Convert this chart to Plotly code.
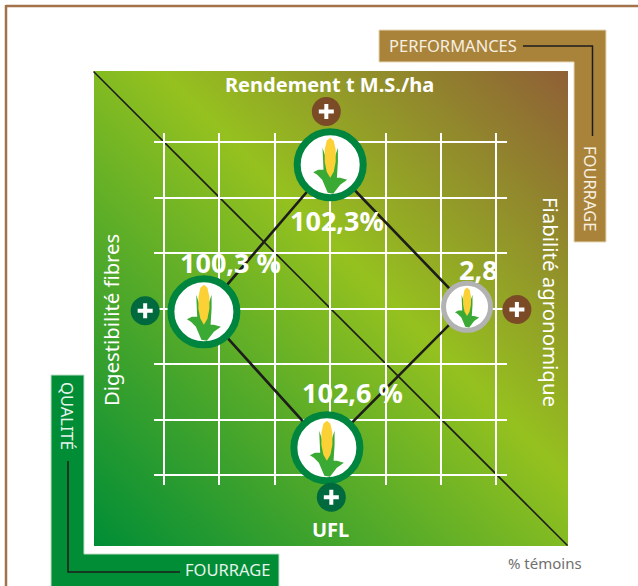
import base64
import plotly.graph_objects as go

# ---- data -------------------------------------------------------------
criteria = ["Rendement t M.S./ha", "Fiabilité agronomique", "UFL", "Digestibilité fibres"]
value_labels = ["102,3%", "2,8", "102,6 %", "100,3 %"]
grid_x = [3.00, 5.47, 2.94, 0.72]     # position read on the 6-cell grid
grid_y = [5.59, 3.03, 0.49, 2.94]
ring_colors = ["#00853f", "#b2b2b2", "#00853f", "#00853f"]
ring_sizes = [66, 47, 66, 66]
ring_widths = [7, 5, 7, 7]
plus_x = [2.93, 6.37, 3.02, -0.34]
plus_y = [6.55, 2.98, -0.40, 2.96]
plus_colors = ["#7b4a26", "#7b4a26", "#00693e", "#00693e"]
grid_ticks = [0, 1, 2, 3, 4, 5, 6]

# ---- page layout helpers (decoration only) ------------------------------
W, H = 638, 586
L, R, T, B = 154, 507, 133, 485
XR = [-10 / 55.4, (R - 164) / 55.4]
YR = [-10 / 55.5, (475 - T) / 55.5]
def X(p): return (p - L) / (R - L)
def Y(p): return (B - p) / (B - T)
def PX(u): return (u - XR[0]) / (XR[1] - XR[0])
def PY(v): return (v - YR[0]) / (YR[1] - YR[0])

def poly(pts):
    return "M" + " L".join(f"{X(a):.5f},{Y(b):.5f}" for a, b in pts) + " Z"

def polyline(pts):
    return "M" + " L".join(f"{X(a):.5f},{Y(b):.5f}" for a, b in pts)

svg = ('<svg xmlns="http://www.w3.org/2000/svg" width="474" height="475" preserveAspectRatio="none">'
       '<defs><linearGradient id="g" x1="0" y1="1" x2="1" y2="0">'
       '<stop offset="0" stop-color="#008d36"/><stop offset="0.57" stop-color="#95c11f"/>'
       '<stop offset="1" stop-color="#8f5f36"/></linearGradient></defs>'
       '<rect width="474" height="475" fill="url(#g)"/></svg>')
grad_src = "data:image/svg+xml;base64," + base64.b64encode(svg.encode()).decode()

# corn icon, in pixels around the marker centre (y up)
LEAF = [(-7.7, 17), (-6.7, -5), (-12, -5), (-17, -7.5), (-13, -10), (-8, -15), (-2.5, -28),
        (3, -29), (10, -20), (17, -15), (10, -13), (6.7, -13), (7.7, 3), (7.7, 17), (3, 3), (-3, 3)]
COB = [(0, 27), (3.5, 24), (5.5, 15), (5.5, 3), (3.5, -7), (0, -13), (-3.5, -7), (-5.5, 3), (-5.5, 15), (-3.5, 24)]
PLUS = [(-2, 7.5), (2, 7.5), (2, 2), (7.5, 2), (7.5, -2), (2, -2), (2, -7.5), (-2, -7.5), (-2, -2), (-7.5, -2), (-7.5, 2), (-2, 2)]
def icon(pts, k):
    return "M" + " L".join(f"{a*k:.2f},{b*k:.2f}" for a, b in pts) + " Z"

shapes = [
    # page frame
    dict(type="line", xref="paper", yref="paper", x0=X(6), x1=X(638), y0=Y(6), y1=Y(6),
         line=dict(color="#a3724b", width=2.5), layer="below"),
    dict(type="line", xref="paper", yref="paper", x0=X(6), x1=X(6), y0=Y(5), y1=Y(586),
         line=dict(color="#a3724b", width=2.5), layer="below"),
    # corner panels
    dict(type="path", xref="paper", yref="paper", layer="below", fillcolor="#a9833a",
         line=dict(color="#e6d8b8", width=1),
         path=poly([(379, 30), (606, 30), (606, 242), (574, 242), (574, 62), (379, 62)])),
    dict(type="path", xref="paper", yref="paper", layer="below", fillcolor="#008d36",
         line=dict(color="#bfe0c8", width=1),
         path=poly([(51, 375), (84, 375), (84, 554), (279, 554), (279, 590), (51, 590)])),
    dict(type="path", xref="paper", yref="paper", layer="below",
         line=dict(color="#1d1d1b", width=1.5),
         path=polyline([(523, 46), (592.5, 46), (592.5, 136)])),
    dict(type="path", xref="paper", yref="paper", layer="below",
         line=dict(color="#1d1d1b", width=1.5),
         path=polyline([(68, 461), (68, 572), (180, 572)])),
    # diagonal
    dict(type="line", xref="paper", yref="paper", x0=X(93.5), x1=X(567.5), y0=Y(71.5), y1=Y(545.5),
         line=dict(color="#1d1d1b", width=1.6), layer="between"),
]
for x, y, s in zip(grid_x, grid_y, ring_sizes):
    k = s / 66
    for pts, col in ((LEAF, "#3aaa35"), (COB, "#fbd136")):
        shapes.append(dict(type="path", xref="paper", yref="paper", xsizemode="pixel", ysizemode="pixel",
                           xanchor=PX(x), yanchor=PY(y), path=icon(pts, k), fillcolor=col,
                           line=dict(width=0), layer="above"))
for x, y, c in zip(plus_x, plus_y, plus_colors):
    shapes.append(dict(type="circle", xref="paper", yref="paper", xsizemode="pixel", ysizemode="pixel",
                       xanchor=PX(x), yanchor=PY(y), x0=-14.5, x1=14.5, y0=-14.5, y1=14.5,
                       fillcolor=c, line=dict(width=0), layer="above"))
    shapes.append(dict(type="path", xref="paper", yref="paper", xsizemode="pixel", ysizemode="pixel",
                       xanchor=PX(x), yanchor=PY(y), path=icon(PLUS, 1), fillcolor="white",
                       line=dict(width=0), layer="above"))

fig = go.Figure()
fig.add_trace(go.Scatter(
    x=grid_x + grid_x[:1], y=grid_y + grid_y[:1], mode="lines", cliponaxis=False,
    line=dict(color="#1d1d1b", width=2.6), hoverinfo="skip"))
fig.add_trace(go.Scatter(
    x=grid_x, y=grid_y, mode="markers", cliponaxis=False, hoverinfo="skip",
    marker=dict(size=ring_sizes, color="white", opacity=1,
                line=dict(color=ring_colors, width=ring_widths))))

FONT = "Noto Sans"
def note(text, px, py, size, color="white", bold=False, angle=0):
    return dict(xref="paper", yref="paper", x=X(px), y=Y(py), text=f"<b>{text}</b>" if bold else text,
                showarrow=False, xanchor="center", yanchor="middle", textangle=angle,
                font=dict(family=FONT, size=size, color=color))

annotations = [
    note(criteria[0], 329, 85, 20, bold=True),
    note(criteria[2], 330, 529, 20, bold=True),
    note(criteria[3], 111, 320, 20.3, angle=-90),
    note(criteria[1], 551, 302, 20.4, angle=90),
    note(value_labels[0], 336.5, 220, 27, bold=True),
    note(value_labels[1], 478, 269, 27, bold=True),
    note(value_labels[2], 352, 392, 27, bold=True),
    note(value_labels[3], 230.5, 262, 27, bold=True),
    note("PERFORMANCES", 453, 45, 16.5, color="#f7efe0"),
    note("FOURRAGE", 591, 188, 16.5, color="#f7efe0", angle=90),
    note("QUALITÉ", 68, 416, 16.5, color="#e6f4ea", angle=90),
    note("FOURRAGE", 227, 569, 16.5, color="#e6f4ea"),
    note("% témoins", 545, 563, 15, color="#706f6f"),
]

axis = dict(showgrid=True, gridcolor="white", gridwidth=1.6, zeroline=False, showline=False,
            ticks="", showticklabels=False, tickmode="array", tickvals=grid_ticks, fixedrange=True)
fig.update_layout(
    width=W, height=H, margin=dict(l=L, r=W - R, t=T, b=H - B, pad=0), showlegend=False,
    paper_bgcolor="white", plot_bgcolor="rgba(0,0,0,0)",
    xaxis=dict(axis, range=XR),
    yaxis=dict(axis, range=YR),
    shapes=shapes, annotations=annotations,
    images=[dict(source=grad_src, xref="paper", yref="paper", x=X(94), y=Y(71), sizex=X(568) - X(94),
                 sizey=Y(71) - Y(546), xanchor="left", yanchor="top", sizing="stretch", layer="below")],
)
fig.write_html("out.html", config=dict(displayModeBar=False),
               post_script="document.body.style.margin='0';document.body.style.overflow='hidden';")
